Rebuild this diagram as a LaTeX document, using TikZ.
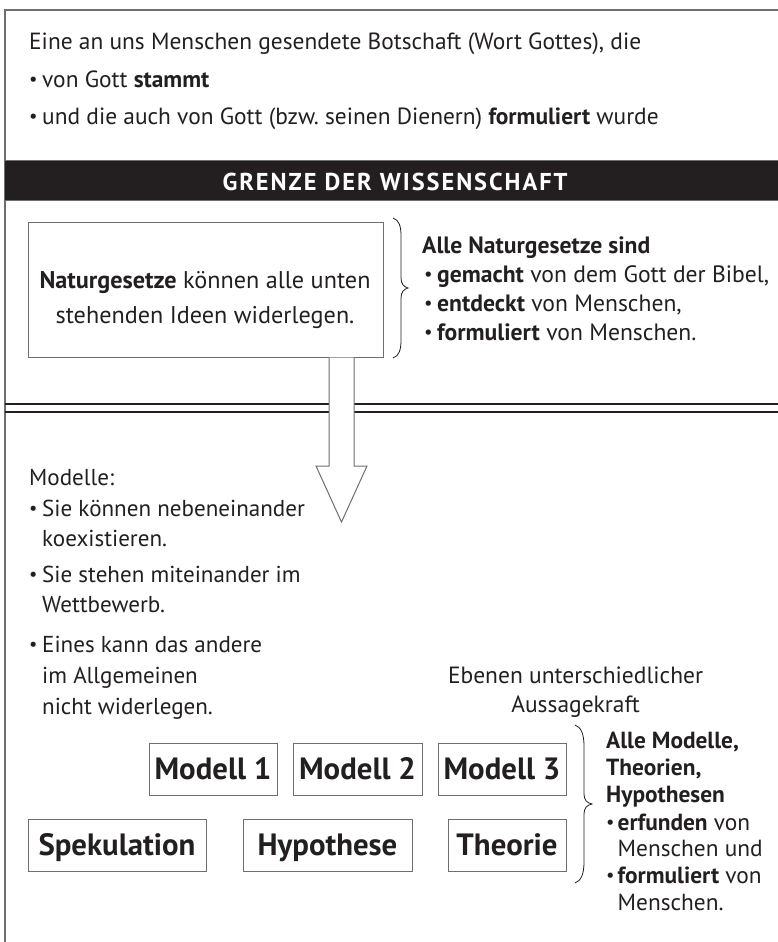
\documentclass[tikz,border=0pt]{standalone}
\usepackage{fontspec}
\setmainfont{PT Sans}
\definecolor{ink}{HTML}{231F20}
\definecolor{framec}{HTML}{6D6E71}
\newcommand{\smallbul}{\raisebox{0.08em}{\scalebox{0.8}{•}}}
\newcommand{\bul}{\makebox[13pt][l]{\smallbul}}
\newlength\fitw
\newcommand\fitsize[3]{\settowidth\fitw{\normalfont\fontsize{10}{12}\selectfont #3}\pgfmathsetmacro#1{10*#2/\fitw}\global\let#1#1}
\begin{document}
\fitsize\szTop{612}{Eine an uns Menschen gesendete Botschaft (Wort Gottes), die}%
\fitsize\szBand{345}{\bfseries\addfontfeatures{LetterSpace=8}GRENZE DER WISSENSCHAFT}%
\fitsize\szNat{331}{\textbf{Naturgesetze} können alle unten}%
\fitsize\szR{332}{\textbf{gemacht} von dem Gott der Bibel,}%
\fitsize\szL{220}{Eines kann das andere}%
\fitsize\szE{255}{Ebenen unterschiedlicher}%
\fitsize\szB{145}{Menschen und}%
\fitsize\szBox{157}{\bfseries Spekulation}%
\begin{tikzpicture}[x=1pt,y=-1pt,
  txt/.style={anchor=base west, inner sep=0pt, text=ink, font=\fontsize{\szTop}{\szTop}\selectfont},
  ctxt/.style={anchor=base, inner sep=0pt, text=ink},
  rtxt/.style={txt, font=\fontsize{\szR}{\szR}\selectfont},
  ltxt/.style={txt, font=\fontsize{\szL}{\szL}\selectfont},
  btxt/.style={txt, font=\fontsize{\szB}{\szB}\selectfont},
  modbox/.style={draw=framec, line width=1pt, inner sep=0pt, text=ink,
    font=\fontsize{\szBox}{\szBox}\selectfont\bfseries, minimum height=52pt,
    text height=20pt, text depth=0pt},
  frameline/.style={draw=framec, line width=1.2pt},
  dline/.style={draw=ink, line width=2.8pt},
  bracec/.style={draw=ink, line width=0.8pt}]
\useasboundingbox (0,0) rectangle (778,942);
% outer frame
\draw[frameline] (778,10) -- (5,10) -- (5,942);
% top text
\node[txt] (t1) at (29,50) {Eine an uns Menschen gesendete Botschaft (Wort Gottes), die};
\node[txt] (t2) at (29,87) {\bul von Gott \textbf{stammt}};
\node[txt] (t3) at (29,124) {\bul und die auch von Gott (bzw.\ seinen Dienern) \textbf{formuliert} wurde};
% band
\fill[ink] (5,160) rectangle (778,200);
\draw[draw=framec, line width=0.8pt] (5,160) -- (778,160) (5,200) -- (778,200);
\node[ctxt, text=white, font=\fontsize{\szBand}{\szBand}\selectfont\bfseries\addfontfeatures{LetterSpace=8}] (band) at (395,190.5) {GRENZE DER WISSENSCHAFT};
% Naturgesetze box
\node[draw=framec, line width=1pt, minimum width=355pt, minimum height=135pt, inner sep=0pt] (nat) at (205.5,289.5) {};
\node[ctxt, font=\fontsize{\szNat}{\szNat}\selectfont] (nat1) at (205,288) {\textbf{Naturgesetze} können alle unten};
\node[ctxt, font=\fontsize{\szNat}{\szNat}\selectfont] (nat2) at (205,323) {stehenden Ideen widerlegen.};
% brace 1
\draw[bracec] (393,218) .. controls (399,220) and (401,226) .. (401,236) -- (401,278)
  .. controls (401,284) and (404,287) .. (408,288) .. controls (404,289) and (401,292) .. (401,298)
  -- (401,340) .. controls (401,350) and (399,356) .. (393,358);
\node[rtxt, font=\fontsize{\szR}{\szR}\selectfont\bfseries] (r1) at (422,253) {Alle Naturgesetze sind};
\node[rtxt] (r2) at (424,282) {\makebox[13pt][l]{\smallbul}\textbf{gemacht} von dem Gott der Bibel,};
\node[rtxt] (r3) at (424,311) {\makebox[13pt][l]{\smallbul}\textbf{entdeckt} von Menschen,};
\node[rtxt] (r4) at (424,340) {\makebox[13pt][l]{\smallbul}\textbf{formuliert} von Menschen.};
% double line
\draw[dline] (5,404) -- (778,404);
\draw[dline] (5,412) -- (778,412);
% arrow
\coordinate (aL) at (329,0 |- nat.south);
\coordinate (aR) at (354,0 |- nat.south);
\draw[draw=framec, line width=1pt, fill=white] (aL) -- (329,466) -- (316,466) -- (341.5,522) -- (367,466) -- (354,466) -- (aR);
% Modelle text
\node[ltxt] (m0) at (29,485) {Modelle:};
\node[ltxt] (m1) at (29,516) {\bul Sie können nebeneinander};
\node[ltxt] (m2) at (42,546) {koexistieren.};
\node[ltxt] (m3) at (29,582) {\bul Sie stehen miteinander im};
\node[ltxt] (m4) at (42,612) {Wettbewerb.};
\node[ltxt] (m5) at (29,652) {\bul Eines kann das andere};
\node[ltxt] (m6) at (42,683) {im Allgemeinen};
\node[ltxt] (m7) at (42,714) {nicht widerlegen.};
% Ebenen
\node[ctxt, font=\fontsize{\szE}{\szE}\selectfont] (e1) at (575.5,683) {Ebenen unterschiedlicher};
\node[ctxt, font=\fontsize{\szE}{\szE}\selectfont] (e2) at (575.5,712) {Aussagekraft};
% boxes
\node[modbox, minimum width=128pt] (mod1) at (213,769) {Modell 1};
\node[modbox, minimum width=129pt] (mod2) at (357.5,769) {Modell 2};
\node[modbox, minimum width=128pt] (mod3) at (502,769) {Modell 3};
\node[modbox, minimum width=178pt] (spek) at (117,845) {Spekulation};
\node[modbox, minimum width=169pt] (hyp) at (327.5,845) {Hypothese};
\node[modbox, minimum width=118pt] (theo) at (507,845) {Theorie};
% brace 2
\draw[bracec] (575,725) .. controls (581,727) and (584,734) .. (584,746) -- (584,794)
  .. controls (584,800) and (587,803) .. (592,804) .. controls (587,805) and (584,808) .. (584,814)
  -- (584,862) .. controls (584,874) and (581,881) .. (575,883);
\node[btxt, font=\fontsize{\szB}{\szB}\selectfont\bfseries] (b1) at (606,748) {Alle Modelle,};
\node[btxt, font=\fontsize{\szB}{\szB}\selectfont\bfseries] (b2) at (606,775) {Theorien,};
\node[btxt, font=\fontsize{\szB}{\szB}\selectfont\bfseries] (b3) at (606,802) {Hypothesen};
\node[btxt] (b4) at (606,830) {\makebox[11.5pt][l]{\smallbul}\textbf{erfunden} von};
\node[btxt] (b5) at (617.5,856) {Menschen und};
\node[btxt] (b6) at (606,883) {\makebox[11.5pt][l]{\smallbul}\textbf{formuliert} von};
\node[btxt] (b7) at (617.5,910) {Menschen.};
\end{tikzpicture}
\end{document}
